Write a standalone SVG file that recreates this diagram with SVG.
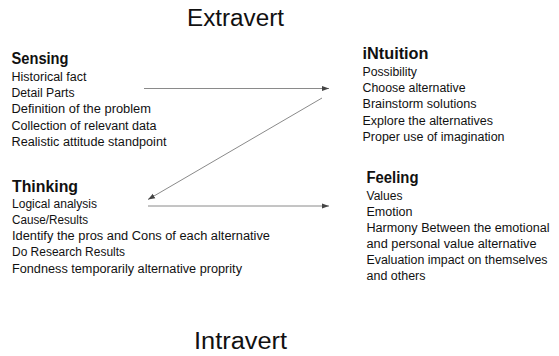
<svg xmlns="http://www.w3.org/2000/svg" width="559" height="356" viewBox="0 0 559 356">
<style>
.t{font-family:"Liberation Sans",Arial,sans-serif;font-size:12px;fill:#111}
.h{font-family:"Liberation Sans",Arial,sans-serif;font-size:16px;font-weight:bold;fill:#111}
.title{font-family:"Liberation Sans",Arial,sans-serif;font-size:23px;fill:#111}
.c{stroke:#8a8a8a;stroke-width:1;fill:none;marker-end:url(#ah)}
</style>
<defs>
<marker id="ah" markerUnits="userSpaceOnUse" markerWidth="8" markerHeight="6" refX="7" refY="3" orient="auto">
<path d="M0,0.5 L7,3 L0,5.5 z" fill="#444"/>
</marker>
</defs>
<rect width="559" height="356" fill="#fff"/>
<g id="title-extravert"><text class="title" x="187" y="26" textLength="97" lengthAdjust="spacingAndGlyphs">Extravert</text></g>
<g id="title-intravert"><text class="title" x="194" y="349" textLength="93" lengthAdjust="spacingAndGlyphs">Intravert</text></g>
<g id="sensing">
<text class="h" x="11.5" y="64" textLength="57" lengthAdjust="spacingAndGlyphs">Sensing</text>
<text class="t" x="11.5" y="81" textLength="75" lengthAdjust="spacingAndGlyphs">Historical fact</text>
<text class="t" x="11.5" y="97" textLength="63" lengthAdjust="spacingAndGlyphs">Detail Parts</text>
<text class="t" x="11.5" y="113" textLength="139.5" lengthAdjust="spacingAndGlyphs">Definition of the problem</text>
<text class="t" x="11.5" y="129.5" textLength="145" lengthAdjust="spacingAndGlyphs">Collection of relevant data</text>
<text class="t" x="11.5" y="146" textLength="155" lengthAdjust="spacingAndGlyphs">Realistic attitude standpoint</text>
</g>
<g id="intuition">
<text class="h" x="362.5" y="59" textLength="66" lengthAdjust="spacingAndGlyphs">iNtuition</text>
<text class="t" x="362.5" y="76" textLength="54.5" lengthAdjust="spacingAndGlyphs">Possibility</text>
<text class="t" x="362.5" y="92" textLength="103" lengthAdjust="spacingAndGlyphs">Choose alternative</text>
<text class="t" x="362.5" y="108" textLength="114" lengthAdjust="spacingAndGlyphs">Brainstorm solutions</text>
<text class="t" x="362.5" y="124.5" textLength="130.5" lengthAdjust="spacingAndGlyphs">Explore the alternatives</text>
<text class="t" x="362.5" y="141" textLength="142" lengthAdjust="spacingAndGlyphs">Proper use of imagination</text>
</g>
<g id="thinking">
<text class="h" x="12" y="192" textLength="66" lengthAdjust="spacingAndGlyphs">Thinking</text>
<text class="t" x="12" y="208" textLength="85" lengthAdjust="spacingAndGlyphs">Logical analysis</text>
<text class="t" x="12" y="224" textLength="76" lengthAdjust="spacingAndGlyphs">Cause/Results</text>
<text class="t" x="12" y="240" textLength="258" lengthAdjust="spacingAndGlyphs">Identify the pros and Cons of each alternative</text>
<text class="t" x="12" y="256" textLength="113" lengthAdjust="spacingAndGlyphs">Do Research Results</text>
<text class="t" x="12" y="272.5" textLength="230" lengthAdjust="spacingAndGlyphs">Fondness temporarily alternative proprity</text>
</g>
<g id="feeling">
<text class="h" x="366.5" y="183" textLength="52" lengthAdjust="spacingAndGlyphs">Feeling</text>
<text class="t" x="366.5" y="200" textLength="36" lengthAdjust="spacingAndGlyphs">Values</text>
<text class="t" x="366.5" y="216" textLength="46" lengthAdjust="spacingAndGlyphs">Emotion</text>
<text class="t" x="366.5" y="232" textLength="183" lengthAdjust="spacingAndGlyphs">Harmony Between the emotional</text>
<text class="t" x="366.5" y="248" textLength="170" lengthAdjust="spacingAndGlyphs">and personal value alternative</text>
<text class="t" x="366.5" y="264" textLength="181" lengthAdjust="spacingAndGlyphs">Evaluation impact on themselves</text>
<text class="t" x="366.5" y="280" textLength="59" lengthAdjust="spacingAndGlyphs">and others</text>
</g>
<g id="connectors">
<line class="c" x1="144" y1="88.5" x2="329" y2="88.5"/>
<line class="c" x1="322" y1="98" x2="148" y2="199.5"/>
<line class="c" x1="148" y1="206" x2="329" y2="206"/>
</g>
</svg>
